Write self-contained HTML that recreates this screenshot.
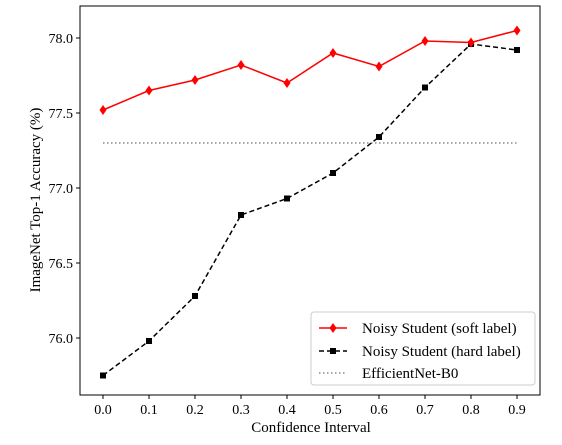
<!DOCTYPE html>
<html><head><meta charset="utf-8"><style>
body{margin:0;background:#fff;}
svg{display:block;font-family:"Liberation Serif",serif;}
</style></head><body>
<svg id="chart" width="562" height="445">
<rect x="80" y="6" width="460" height="389" fill="none" stroke="#000" stroke-width="1"/>
<g id="xticks"></g>
<g id="yticks"></g>
<g id="series"></g>
<text x="311" y="432" font-size="15" text-anchor="middle">Confidence Interval</text>
<text transform="translate(40,200) rotate(-90)" font-size="15" text-anchor="middle">ImageNet Top-1 Accuracy (%)</text>
<g>
<rect x="311" y="312" width="224" height="73" rx="3" fill="#fff" stroke="#ccc"/>
<g>
<line x1="319" y1="328" x2="347" y2="328" stroke="red" stroke-width="1.5"/>
<polygon points="333,323 336.5,328 333,333 329.5,328" fill="red"/>
<text x="362" y="333" font-size="15">Noisy Student (soft label)</text></g>
<g>
<line x1="319" y1="351" x2="347" y2="351" stroke="#000" stroke-width="1.5" stroke-dasharray="5,3"/>
<rect x="330" y="348" width="6" height="6" fill="#000"/>
<text x="362" y="356" font-size="15">Noisy Student (hard label)</text></g>
<g>
<line x1="319" y1="373" x2="347" y2="373" stroke="#888" stroke-width="1.5" stroke-dasharray="1.5,2.5"/>
<text x="362" y="378" font-size="15">EfficientNet-B0</text></g>
</g>
</svg>
<script>
const categories=[0.0,0.1,0.2,0.3,0.4,0.5,0.6,0.7,0.8,0.9];
const softValues=[77.52,77.65,77.72,77.82,77.70,77.90,77.81,77.98,77.97,78.05];
const hardValues=[75.75,75.98,76.28,76.82,76.93,77.10,77.34,77.67,77.96,77.92];
const baselineValue=77.30;
const yTicks=[76.0,76.5,77.0,77.5,78.0];
const NS="http://www.w3.org/2000/svg";
function xS(v){return 103+(v/0.9)*414;}
function yS(v){return 338-(v-76)*150;}
function mk(tag,attrs,parent){const e=document.createElementNS(NS,tag);for(const k in attrs)e.setAttribute(k,attrs[k]);parent.appendChild(e);return e;}
const xg=document.getElementById('xticks'),yg=document.getElementById('yticks'),sg=document.getElementById('series');
categories.forEach(c=>{
  const x=xS(c);
  const t=mk('line',{x1:x,x2:x,y1:395,y2:399,stroke:'#000'},xg);
  
  
  const l=mk('text',{x:x,y:414,'font-size':14,'text-anchor':'middle'},xg);
  l.textContent=c.toFixed(1);
  
  
});
yTicks.forEach(v=>{
  const y=yS(v);
  const t=mk('line',{x1:76,x2:80,y1:y,y2:y,stroke:'#000'},yg);
  
  
  const l=mk('text',{x:73,y:y+5,'font-size':14,'text-anchor':'end'},yg);
  l.textContent=v.toFixed(1);
  
  
});
const bl=mk('line',{x1:xS(categories[0]),x2:xS(categories[categories.length-1]),y1:yS(baselineValue),y2:yS(baselineValue),stroke:'#888','stroke-width':1.5,'stroke-dasharray':'1.5,2.5'},sg);


const hp=mk('polyline',{points:categories.map((c,i)=>xS(c)+','+yS(hardValues[i])).join(' '),fill:'none',stroke:'#000','stroke-width':1.5,'stroke-dasharray':'5,3'},sg);


categories.forEach((c,i)=>{
  const r=mk('rect',{x:xS(c)-3,y:yS(hardValues[i])-3,width:6,height:6,fill:'#000'},sg);
  
  
});
const sp=mk('polyline',{points:categories.map((c,i)=>xS(c)+','+yS(softValues[i])).join(' '),fill:'none',stroke:'red','stroke-width':1.5},sg);


categories.forEach((c,i)=>{
  const x=xS(c),y=yS(softValues[i]);
  const p=mk('polygon',{points:`${x},${y-5} ${x+3.5},${y} ${x},${y+5} ${x-3.5},${y}`,fill:'red'},sg);
  
  
});
</script>
</body></html>
